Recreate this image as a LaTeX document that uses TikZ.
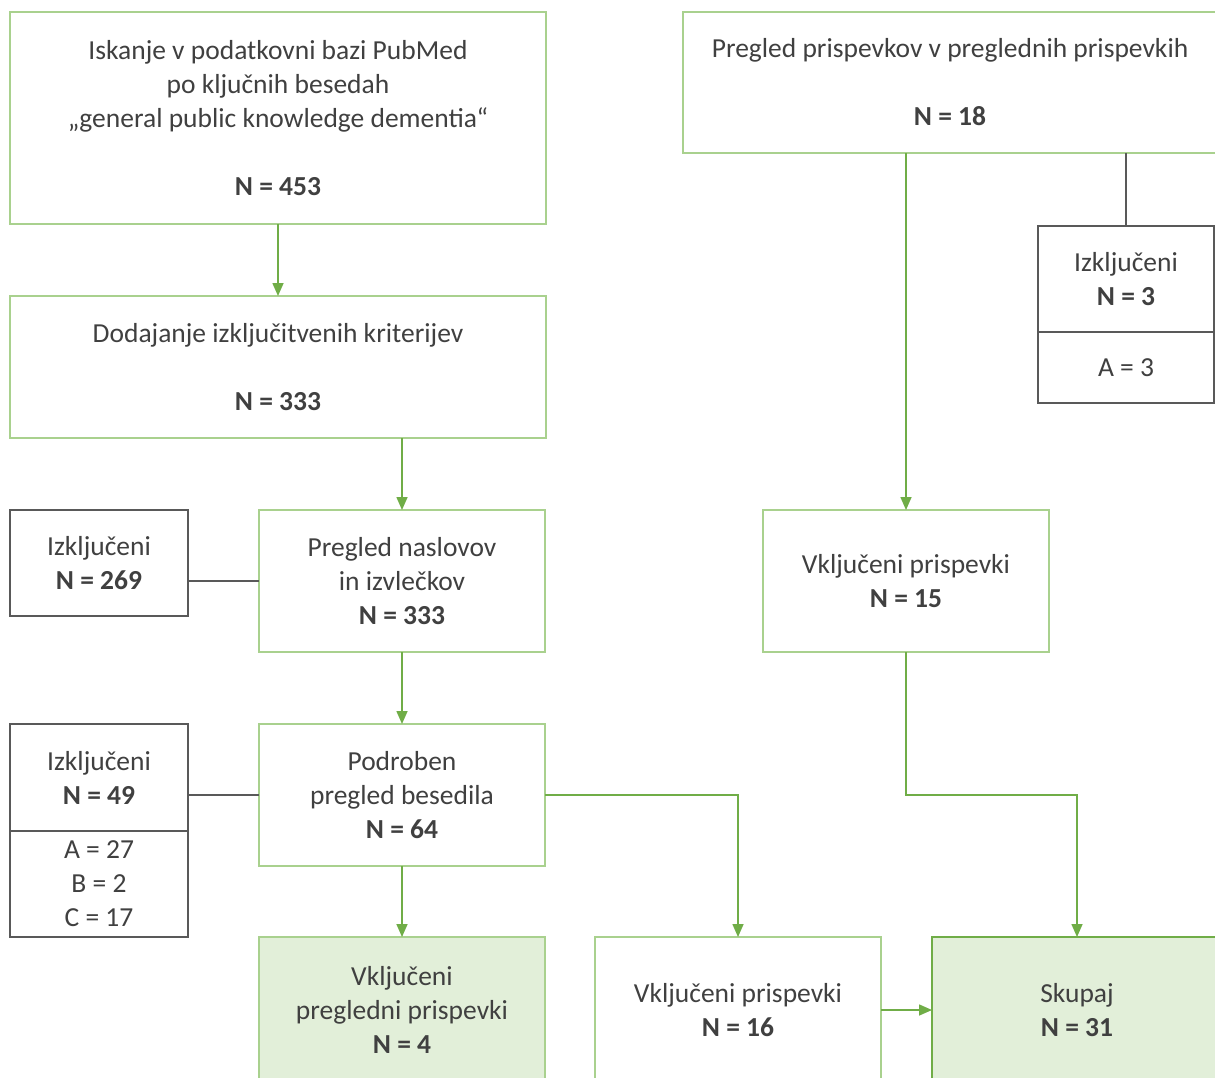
\documentclass[tikz,border=0pt]{standalone}
\usepackage{fontspec}
\setmainfont{Carlito}
\usetikzlibrary{arrows.meta}
\definecolor{boxgreen}{HTML}{A9D18E}
\definecolor{arrgreen}{HTML}{70AD47}
\definecolor{lightfill}{HTML}{E2EFD9}
\definecolor{txt}{HTML}{404040}
\definecolor{graybox}{HTML}{595959}
\tikzset{
  base/.style={inner sep=0pt, outer sep=0pt, anchor=north west, align=center, text=txt,
    font=\fontsize{27.5}{34}\selectfont, line width=1.6pt},
  gbox/.style={base, draw=boxgreen, fill=white},
  fbox/.style={base, draw=boxgreen, fill=lightfill},
  sbox/.style={base, draw=arrgreen, fill=lightfill, line width=2.6pt},
  xbox/.style={base, draw=graybox, fill=white},
  arr/.style={draw=arrgreen, line width=1.6pt, -{Triangle[width=11pt,length=13pt]}},
  xline/.style={draw=graybox, line width=1.6pt}
}
\begin{document}
\begin{tikzpicture}[x=1pt,y=-1pt]
\useasboundingbox (0,0) rectangle (1215,1078);
\clip (0,0) rectangle (1215,1078);
\fill[white] (0,0) rectangle (1215,1078);
% left column
\node[gbox, minimum width=536pt, minimum height=212pt] (b1) at (10,12)
  {Iskanje v podatkovni bazi PubMed\\ po ključnih besedah\\ „general public knowledge dementia“\\[34pt] \textbf{N = 453}};
\node[gbox, minimum width=536pt, minimum height=142pt] (b2) at (10,296)
  {Dodajanje izključitvenih kriterijev\\[34pt] \textbf{N = 333}};
\node[gbox, minimum width=286pt, minimum height=142pt] (b3) at (259,510)
  {Pregled naslovov\\ in izvlečkov\\ \textbf{N = 333}};
\node[xbox, minimum width=178pt, minimum height=106pt] (ex1) at (10,510)
  {Izključeni\\ \textbf{N = 269}};
\node[gbox, minimum width=286pt, minimum height=142pt] (b4) at (259,724)
  {Podroben\\ pregled besedila\\ \textbf{N = 64}};
\node[xbox, minimum width=178pt, minimum height=107pt] (ex2) at (10,724)
  {Izključeni\\ \textbf{N = 49}};
\node[xbox, minimum width=178pt, minimum height=106pt] (ex2b) at (10,831)
  {A = 27\\ B = 2\\ C = 17};
\node[fbox, minimum width=286pt, minimum height=146pt] (inc1) at (259,937)
  {Vključeni\\ pregledni prispevki\\ \textbf{N = 4}};
% right column
\node[gbox, minimum width=534pt, minimum height=141pt] (r1) at (683,12)
  {Pregled prispevkov v preglednih prispevkih\\[34pt] \textbf{N = 18}};
\node[xbox, minimum width=176pt, minimum height=106pt] (ex3) at (1038,226)
  {Izključeni\\ \textbf{N = 3}};
\node[xbox, minimum width=176pt, minimum height=71pt] (ex3b) at (1038,332)
  {A = 3};
\node[gbox, minimum width=286pt, minimum height=142pt] (inc15) at (763,510)
  {Vključeni prispevki\\ \textbf{N = 15}};
\node[gbox, minimum width=286pt, minimum height=146pt] (inc16) at (595,937)
  {Vključeni prispevki\\ \textbf{N = 16}};
\node[sbox, minimum width=290pt, minimum height=146pt] (sk) at (932,937)
  {Skupaj\\ \textbf{N = 31}};
% connectors
\draw[arr] (b1.south) -- (b2.north);
\draw[arr] (b3.north |- b2.south) -- (b3.north);
\draw[xline] (b3.west) -- (b3.west -| ex1.east);
\draw[arr] (b3.south) -- (b4.north);
\draw[xline] (b4.west) -- (b4.west -| ex2.east);
\draw[arr] (b4.south) -- (inc1.north);
\draw[arr] (b4.east) -| (inc16.north);
\draw[arr] (inc16.east) -- (sk.west);
\draw[arr] (inc15.north |- r1.south) -- (inc15.north);
\draw[xline] (ex3.north |- r1.south) -- (ex3.north);
\coordinate (bend) at (inc15.south |- b4.east);
\draw[arr] (inc15.south) -- (bend) -| (sk.north);
\end{tikzpicture}
\end{document}
